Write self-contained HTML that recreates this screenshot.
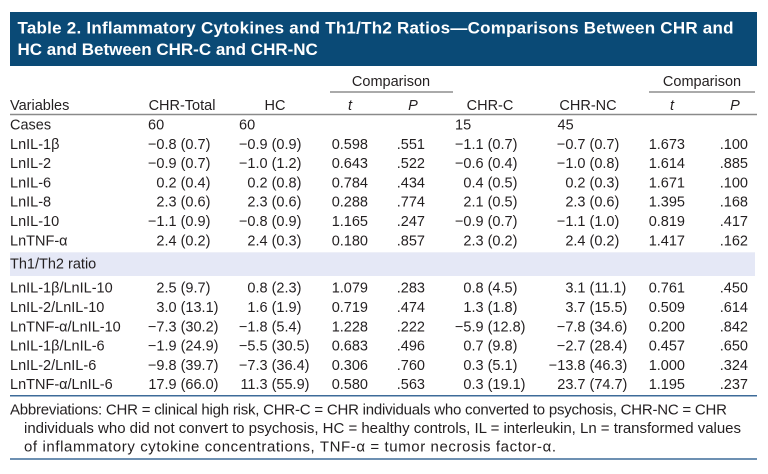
<!DOCTYPE html>
<html>
<head>
<meta charset="utf-8">
<style>
  html, body { margin: 0; padding: 0; background: #ffffff; }
  body { width: 768px; height: 474px; overflow: hidden; }
  svg { display: block; }
  text { font-family: "Liberation Sans", "DejaVu Sans", sans-serif; fill: #231f20; font-size: 14.5px; }
  .t { fill: #ffffff; font-weight: bold; font-size: 17px; }
  .e { text-anchor: end; }
  .m { text-anchor: middle; }
  .fn { font-size: 15px; }
</style>
</head>
<body>
<svg width="768" height="474" viewBox="0 0 768 474" xmlns="http://www.w3.org/2000/svg">
  <!-- Title bar -->
  <rect x="10" y="12" width="747" height="54" fill="#0a4a76"/>
  <text class="t" x="17.5" y="33.5" textLength="716" lengthAdjust="spacing">Table 2. Inflammatory Cytokines and Th1/Th2 Ratios—Comparisons Between CHR and</text>
  <text class="t" x="17.5" y="55">HC and Between CHR-C and CHR-NC</text>

  <!-- Comparison group headers -->
  <text class="m" x="391" y="86">Comparison</text>
  <line x1="330" y1="92" x2="453" y2="92" stroke="#555" stroke-width="1"/>
  <text class="m" x="702" y="86">Comparison</text>
  <line x1="649" y1="92" x2="755" y2="92" stroke="#555" stroke-width="1"/>

  <!-- Column headers -->
  <text x="10" y="110">Variables</text>
  <text class="m" x="182" y="110">CHR-Total</text>
  <text class="m" x="275" y="110">HC</text>
  <text class="m" x="350" y="110" font-style="italic">t</text>
  <text class="m" x="413" y="110" font-style="italic">P</text>
  <text class="m" x="490" y="110">CHR-C</text>
  <text class="m" x="588" y="110">CHR-NC</text>
  <text class="m" x="672" y="110" font-style="italic">t</text>
  <text class="m" x="735" y="110" font-style="italic">P</text>
  <line x1="10" y1="114.5" x2="757" y2="114.5" stroke="#8a8a8a" stroke-width="1.5"/>

  <!-- Cases row -->
  <text x="10" y="129.5">Cases</text>
  <text x="148" y="129.5">60</text>
  <text x="239" y="129.5">60</text>
  <text x="455" y="129.5">15</text>
  <text x="557.5" y="129.5">45</text>

  <!-- Cytokine rows -->
  <g>
    <text x="10" y="148.8">LnIL-1β</text>
    <text class="e" x="176.6" y="148.8">−0.8</text><text x="180.6" y="148.8">(0.7)</text>
    <text class="e" x="267.6" y="148.8">−0.9</text><text x="271.6" y="148.8">(0.9)</text>
    <text class="e" x="368" y="148.8">0.598</text>
    <text class="e" x="425" y="148.8">.551</text>
    <text class="e" x="483.6" y="148.8">−1.1</text><text x="487.6" y="148.8">(0.7)</text>
    <text class="e" x="585.5" y="148.8">−0.7</text><text x="589.5" y="148.8">(0.7)</text>
    <text class="e" x="685" y="148.8">1.673</text>
    <text class="e" x="748" y="148.8">.100</text>

    <text x="10" y="168.1">LnIL-2</text>
    <text class="e" x="176.6" y="168.1">−0.9</text><text x="180.6" y="168.1">(0.7)</text>
    <text class="e" x="267.6" y="168.1">−1.0</text><text x="271.6" y="168.1">(1.2)</text>
    <text class="e" x="368" y="168.1">0.643</text>
    <text class="e" x="425" y="168.1">.522</text>
    <text class="e" x="483.6" y="168.1">−0.6</text><text x="487.6" y="168.1">(0.4)</text>
    <text class="e" x="585.5" y="168.1">−1.0</text><text x="589.5" y="168.1">(0.8)</text>
    <text class="e" x="685" y="168.1">1.614</text>
    <text class="e" x="748" y="168.1">.885</text>

    <text x="10" y="187.4">LnIL-6</text>
    <text class="e" x="176.6" y="187.4">0.2</text><text x="180.6" y="187.4">(0.4)</text>
    <text class="e" x="267.6" y="187.4">0.2</text><text x="271.6" y="187.4">(0.8)</text>
    <text class="e" x="368" y="187.4">0.784</text>
    <text class="e" x="425" y="187.4">.434</text>
    <text class="e" x="483.6" y="187.4">0.4</text><text x="487.6" y="187.4">(0.5)</text>
    <text class="e" x="585.5" y="187.4">0.2</text><text x="589.5" y="187.4">(0.3)</text>
    <text class="e" x="685" y="187.4">1.671</text>
    <text class="e" x="748" y="187.4">.100</text>

    <text x="10" y="206.7">LnIL-8</text>
    <text class="e" x="176.6" y="206.7">2.3</text><text x="180.6" y="206.7">(0.6)</text>
    <text class="e" x="267.6" y="206.7">2.3</text><text x="271.6" y="206.7">(0.6)</text>
    <text class="e" x="368" y="206.7">0.288</text>
    <text class="e" x="425" y="206.7">.774</text>
    <text class="e" x="483.6" y="206.7">2.1</text><text x="487.6" y="206.7">(0.5)</text>
    <text class="e" x="585.5" y="206.7">2.3</text><text x="589.5" y="206.7">(0.6)</text>
    <text class="e" x="685" y="206.7">1.395</text>
    <text class="e" x="748" y="206.7">.168</text>

    <text x="10" y="226">LnIL-10</text>
    <text class="e" x="176.6" y="226">−1.1</text><text x="180.6" y="226">(0.9)</text>
    <text class="e" x="267.6" y="226">−0.8</text><text x="271.6" y="226">(0.9)</text>
    <text class="e" x="368" y="226">1.165</text>
    <text class="e" x="425" y="226">.247</text>
    <text class="e" x="483.6" y="226">−0.9</text><text x="487.6" y="226">(0.7)</text>
    <text class="e" x="585.5" y="226">−1.1</text><text x="589.5" y="226">(1.0)</text>
    <text class="e" x="685" y="226">0.819</text>
    <text class="e" x="748" y="226">.417</text>

    <text x="10" y="245.3">LnTNF-α</text>
    <text class="e" x="176.6" y="245.3">2.4</text><text x="180.6" y="245.3">(0.2)</text>
    <text class="e" x="267.6" y="245.3">2.4</text><text x="271.6" y="245.3">(0.3)</text>
    <text class="e" x="368" y="245.3">0.180</text>
    <text class="e" x="425" y="245.3">.857</text>
    <text class="e" x="483.6" y="245.3">2.3</text><text x="487.6" y="245.3">(0.2)</text>
    <text class="e" x="585.5" y="245.3">2.4</text><text x="589.5" y="245.3">(0.2)</text>
    <text class="e" x="685" y="245.3">1.417</text>
    <text class="e" x="748" y="245.3">.162</text>
  </g>

  <!-- Band -->
  <rect x="10" y="252.3" width="745" height="23.7" fill="#e5e8f6"/>
  <text x="10" y="268.3">Th1/Th2 ratio</text>

  <g>
    <text x="10" y="292.7">LnIL-1β/LnIL-10</text>
    <text class="e" x="176.6" y="292.7">2.5</text><text x="180.6" y="292.7">(9.7)</text>
    <text class="e" x="267.6" y="292.7">0.8</text><text x="271.6" y="292.7">(2.3)</text>
    <text class="e" x="368" y="292.7">1.079</text>
    <text class="e" x="425" y="292.7">.283</text>
    <text class="e" x="483.6" y="292.7">0.8</text><text x="487.6" y="292.7">(4.5)</text>
    <text class="e" x="585.5" y="292.7">3.1</text><text x="589.5" y="292.7">(11.1)</text>
    <text class="e" x="685" y="292.7">0.761</text>
    <text class="e" x="748" y="292.7">.450</text>

    <text x="10" y="312">LnIL-2/LnIL-10</text>
    <text class="e" x="176.6" y="312">3.0</text><text x="180.6" y="312">(13.1)</text>
    <text class="e" x="267.6" y="312">1.6</text><text x="271.6" y="312">(1.9)</text>
    <text class="e" x="368" y="312">0.719</text>
    <text class="e" x="425" y="312">.474</text>
    <text class="e" x="483.6" y="312">1.3</text><text x="487.6" y="312">(1.8)</text>
    <text class="e" x="585.5" y="312">3.7</text><text x="589.5" y="312">(15.5)</text>
    <text class="e" x="685" y="312">0.509</text>
    <text class="e" x="748" y="312">.614</text>

    <text x="10" y="331.3">LnTNF-α/LnIL-10</text>
    <text class="e" x="176.6" y="331.3">−7.3</text><text x="180.6" y="331.3">(30.2)</text>
    <text class="e" x="267.6" y="331.3">−1.8</text><text x="271.6" y="331.3">(5.4)</text>
    <text class="e" x="368" y="331.3">1.228</text>
    <text class="e" x="425" y="331.3">.222</text>
    <text class="e" x="483.6" y="331.3">−5.9</text><text x="487.6" y="331.3">(12.8)</text>
    <text class="e" x="585.5" y="331.3">−7.8</text><text x="589.5" y="331.3">(34.6)</text>
    <text class="e" x="685" y="331.3">0.200</text>
    <text class="e" x="748" y="331.3">.842</text>

    <text x="10" y="350.6">LnIL-1β/LnIL-6</text>
    <text class="e" x="176.6" y="350.6">−1.9</text><text x="180.6" y="350.6">(24.9)</text>
    <text class="e" x="267.6" y="350.6">−5.5</text><text x="271.6" y="350.6">(30.5)</text>
    <text class="e" x="368" y="350.6">0.683</text>
    <text class="e" x="425" y="350.6">.496</text>
    <text class="e" x="483.6" y="350.6">0.7</text><text x="487.6" y="350.6">(9.8)</text>
    <text class="e" x="585.5" y="350.6">−2.7</text><text x="589.5" y="350.6">(28.4)</text>
    <text class="e" x="685" y="350.6">0.457</text>
    <text class="e" x="748" y="350.6">.650</text>

    <text x="10" y="369.9">LnIL-2/LnIL-6</text>
    <text class="e" x="176.6" y="369.9">−9.8</text><text x="180.6" y="369.9">(39.7)</text>
    <text class="e" x="267.6" y="369.9">−7.3</text><text x="271.6" y="369.9">(36.4)</text>
    <text class="e" x="368" y="369.9">0.306</text>
    <text class="e" x="425" y="369.9">.760</text>
    <text class="e" x="483.6" y="369.9">0.3</text><text x="487.6" y="369.9">(5.1)</text>
    <text class="e" x="585.5" y="369.9">−13.8</text><text x="589.5" y="369.9">(46.3)</text>
    <text class="e" x="685" y="369.9">1.000</text>
    <text class="e" x="748" y="369.9">.324</text>

    <text x="10" y="389.2">LnTNF-α/LnIL-6</text>
    <text class="e" x="176.6" y="389.2">17.9</text><text x="180.6" y="389.2">(66.0)</text>
    <text class="e" x="267.6" y="389.2">11.3</text><text x="271.6" y="389.2">(55.9)</text>
    <text class="e" x="368" y="389.2">0.580</text>
    <text class="e" x="425" y="389.2">.563</text>
    <text class="e" x="483.6" y="389.2">0.3</text><text x="487.6" y="389.2">(19.1)</text>
    <text class="e" x="585.5" y="389.2">23.7</text><text x="589.5" y="389.2">(74.7)</text>
    <text class="e" x="685" y="389.2">1.195</text>
    <text class="e" x="748" y="389.2">.237</text>
  </g>

  <line x1="10" y1="395.7" x2="757" y2="395.7" stroke="#3d6b99" stroke-width="1.5"/>

  <!-- Footnote -->
  <text class="fn" x="10" y="414.3" textLength="717" lengthAdjust="spacing">Abbreviations: CHR = clinical high risk, CHR-C = CHR individuals who converted to psychosis, CHR-NC = CHR</text>
  <text class="fn" x="24" y="433" textLength="717" lengthAdjust="spacing">individuals who did not convert to psychosis, HC = healthy controls, IL = interleukin, Ln = transformed values</text>
  <text class="fn" x="24" y="451.6" textLength="532" lengthAdjust="spacing">of inflammatory cytokine concentrations, TNF-α = tumor necrosis factor-α.</text>

  <line x1="10" y1="459" x2="757" y2="459" stroke="#3d6b99" stroke-width="1.5"/>
</svg>
</body>
</html>
